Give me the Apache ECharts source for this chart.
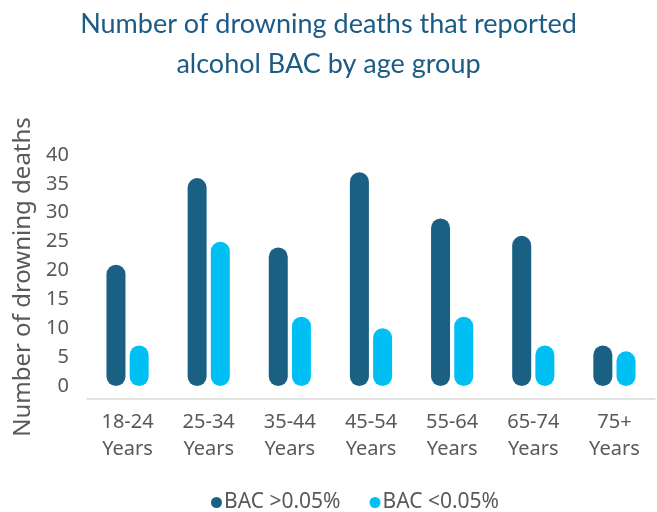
<!DOCTYPE html>
<html>
<head>
<meta charset="utf-8">
<script src="https://cdn.jsdelivr.net/npm/echarts@6/dist/echarts.min.js"></script>
<style>
  html, body { margin: 0; padding: 0; background: #ffffff; }
  #chart { width: 657px; height: 512px; }
</style>
</head>
<body>
<div id="chart"></div>
<script>
// Age groups on the category axis (two-line labels)
const ageGroups = ['18-24\nYears', '25-34\nYears', '35-44\nYears', '45-54\nYears', '55-64\nYears', '65-74\nYears', '75+\nYears'];
// Deaths with a blood alcohol reading above / below 0.05%
const bacAbove = [21, 36, 24, 37, 29, 26, 7];
const bacBelow = [7, 25, 12, 10, 12, 7, 6];
const seriesNames = ['BAC >0.05%', 'BAC <0.05%'];
const titleText = 'Number of drowning deaths that reported\nalcohol BAC by age group';
const yAxisTitle = 'Number of drowning deaths';

const DARK = '#1a6082';
const LIGHT = '#00bff2';
const TEXT = '#595959';
const FONT = "'Noto Sans', 'Open Sans', sans-serif";

const chart = echarts.init(document.getElementById('chart'), null, { renderer: 'canvas' });

chart.setOption({
  animation: false,
  backgroundColor: '#ffffff',
  title: {
    text: titleText,
    left: 'center',
    top: -1,
    textStyle: {
      fontFamily: "'Lato', sans-serif",
      fontWeight: 'normal',
      fontSize: 27,
      lineHeight: 40,
      color: '#1b5b85'
    }
  },
  legend: {
    top: 487,
    left: 206,
    icon: 'circle',
    itemWidth: 11,
    itemHeight: 11,
    itemGap: 29,
    textStyle: { fontFamily: FONT, fontSize: 21, color: TEXT, padding: [0, 0, 0, -3] },
    data: seriesNames
  },
  grid: {
    left: 87,
    right: 2,
    top: 155,
    bottom: 113
  },
  xAxis: {
    type: 'category',
    data: ageGroups,
    axisLine: { show: true, onZero: false, lineStyle: { color: '#d9d9d9', width: 1.5 } },
    axisTick: { show: false },
    axisLabel: {
      fontFamily: FONT,
      fontSize: 20,
      lineHeight: 27,
      color: TEXT,
      margin: 10
    }
  },
  yAxis: {
    type: 'value',
    min: -2.25,
    max: 40,
    splitNumber: 8,
    name: yAxisTitle,
    nameLocation: 'middle',
    nameGap: 52,
    nameTextStyle: { fontFamily: FONT, fontSize: 24, color: TEXT },
    axisLine: { show: false },
    axisTick: { show: false },
    splitLine: { show: false },
    axisLabel: {
      fontFamily: FONT,
      fontSize: 20,
      color: TEXT,
      margin: 18,
      showMinLabel: false,
      formatter: v => (v < 0 ? '' : String(v))
    }
  },
  series: [
    {
      name: seriesNames[0],
      type: 'bar',
      data: bacAbove,
      barWidth: 19,
      barGap: '22%',
      itemStyle: { color: DARK, borderRadius: 9.5 }
    },
    {
      name: seriesNames[1],
      type: 'bar',
      data: bacBelow,
      barWidth: 19,
      barGap: '22%',
      itemStyle: { color: LIGHT, borderRadius: 9.5 }
    }
  ]
});
</script>
</body>
</html>
